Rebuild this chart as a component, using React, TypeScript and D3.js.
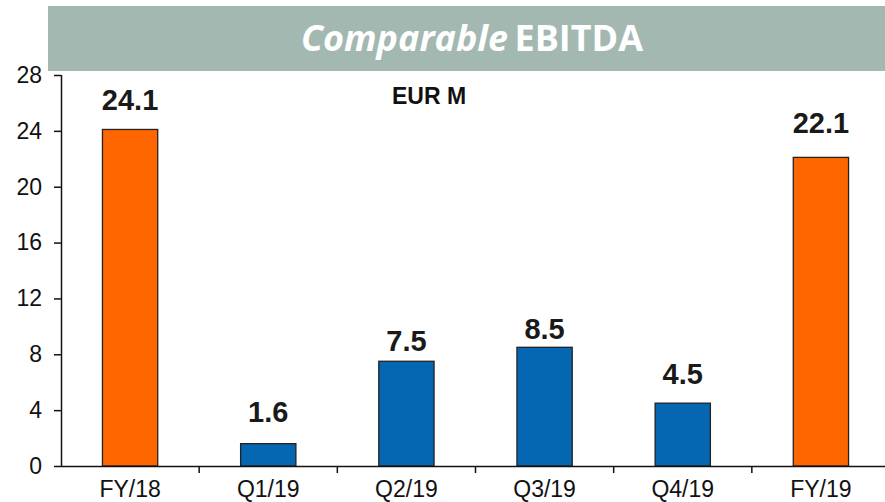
import React, { useEffect, useRef } from 'react'
import * as d3 from 'd3'

const categories = ['FY/18', 'Q1/19', 'Q2/19', 'Q3/19', 'Q4/19', 'FY/19']
const values = [24.1, 1.6, 7.5, 8.5, 4.5, 22.1]
const isFullYear = [true, false, false, false, false, true]
const yTicks = [0, 4, 8, 12, 16, 20, 24, 28]
// label gap above each bar, as placed in the source slide
const labelGap = [19, 22, 10, 8, 19, 24]

const width = 885
const height = 502
const margin = { top: 75, right: -5, bottom: 36, left: 61 }

export default function App() {
  const ref = useRef<SVGSVGElement>(null)

  useEffect(() => {
    const svg = d3.select(ref.current)
    svg.selectAll('*').remove()

    const x = d3.scaleBand()
      .domain(categories)
      .range([margin.left, width - margin.right])
      .paddingInner(0.6)
      .paddingOuter(0.3)
    const band = d3.scaleBand().domain(categories).range([margin.left, width - margin.right])
    const y = d3.scaleLinear().domain([0, 28]).range([height - margin.bottom, margin.top])

    // banner
    svg.append('rect')
      .attr('x', 48).attr('y', 6).attr('width', width - 48).attr('height', 65)
      .attr('fill', '#a3b8b1')
    const title = svg.append('text')
      .attr('x', 472).attr('y', 51)
      .attr('text-anchor', 'middle')
      .attr('fill', '#fff')
      .attr('font-family', '"Open Sans", sans-serif')
      .attr('font-weight', 700)
      .attr('font-size', 36)
    title.append('tspan').attr('font-style', 'italic').text('Comparable')
    title.append('tspan').attr('dx', -3).text(' EBITDA')

    svg.append('text')
      .attr('x', 429).attr('y', 104)
      .attr('text-anchor', 'middle')
      .attr('font-family', 'Arial, "Liberation Sans", sans-serif')
      .attr('font-weight', 700)
      .attr('font-size', 23)
      .attr('fill', '#111')
      .text('EUR M')

    // bars
    svg.append('g').selectAll('rect')
      .data(values)
      .join('rect')
      .attr('x', (d, i) => band(categories[i])! + band.bandwidth() / 2 - x.bandwidth() / 2)
      .attr('y', d => y(d))
      .attr('width', x.bandwidth())
      .attr('height', d => y(0) - y(d))
      .attr('fill', (d, i) => isFullYear[i] ? '#ff6600' : '#0567b1')
      .attr('stroke', '#222')
      .attr('stroke-width', 1.3)

    svg.append('g').selectAll('text')
      .data(values)
      .join('text')
      .attr('x', (d, i) => band(categories[i])! + band.bandwidth() / 2)
      .attr('y', (d, i) => y(d) - labelGap[i])
      .attr('text-anchor', 'middle')
      .attr('font-family', 'Arial, "Liberation Sans", sans-serif')
      .attr('font-weight', 700)
      .attr('font-size', 29)
      .attr('fill', '#1a1a1a')
      .text(d => d.toFixed(1))

    // y axis
    const yAxis = svg.append('g')
      .attr('transform', `translate(${margin.left},0)`)
      .call(d3.axisLeft(y).tickValues(yTicks).tickSize(7).tickPadding(12))
    yAxis.select('.domain').attr('stroke', '#111').attr('stroke-width', 1.5)
      .attr('d', `M0.5,${y(28)}V${y(0)}`)
    yAxis.selectAll('line').attr('stroke', '#111').attr('stroke-width', 1.5)
    yAxis.selectAll('text')
      .attr('font-family', 'Arial, "Liberation Sans", sans-serif')
      .attr('font-size', 23)
      .attr('fill', '#111')

    // x axis
    const xAxis = svg.append('g')
      .attr('transform', `translate(0,${y(0)})`)
      .call(d3.axisBottom(band).tickSize(0).tickPadding(15))
    xAxis.select('.domain').attr('stroke', '#111').attr('stroke-width', 1.5)
      .attr('d', `M${margin.left},0.5H${width}`)
    xAxis.selectAll('text')
      .attr('font-family', 'Arial, "Liberation Sans", sans-serif')
      .attr('font-size', 23)
      .attr('fill', '#111')
    xAxis.selectAll('line.sep')
      .data(categories.slice(1))
      .join('line')
      .attr('class', 'sep')
      .attr('x1', d => band(d)!).attr('x2', d => band(d)!)
      .attr('y1', 0).attr('y2', 7)
      .attr('stroke', '#111').attr('stroke-width', 1.5)
  }, [])

  return (
    <svg ref={ref} width={width} height={height}
      style={{ position: 'absolute', left: 0, top: 0, background: '#fff' }} />
  )
}
